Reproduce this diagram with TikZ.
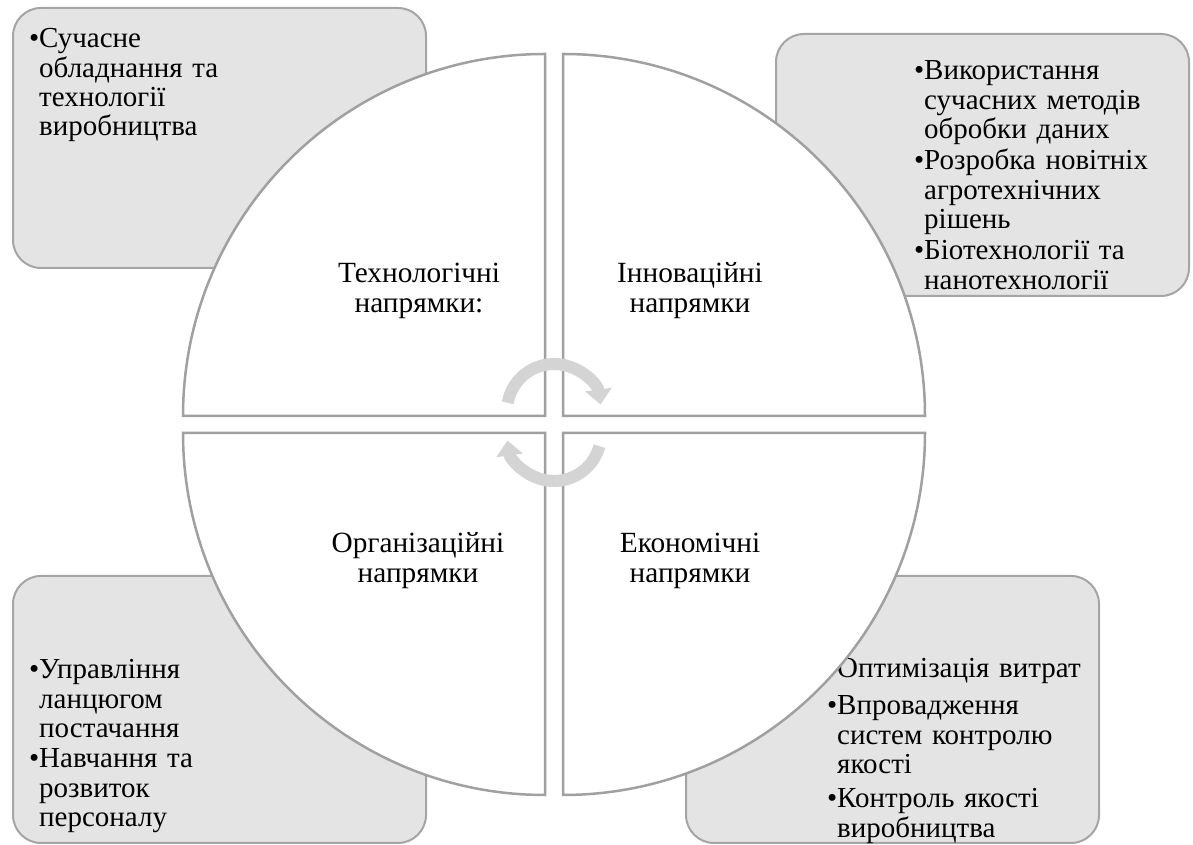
\documentclass[tikz,border=0pt]{standalone}
\usepackage{fontspec}
\setmainfont{Liberation Serif}
\usetikzlibrary{arrows.meta}
\definecolor{boxfill}{RGB}{228,228,228}
\definecolor{boxline}{RGB}{165,165,165}
\definecolor{quadline}{RGB}{160,160,160}
\definecolor{arrowgray}{RGB}{212,212,212}
\newcommand\bodyfont{\fontsize{29pt}{29.3pt}\selectfont}
\newcommand\labelfont{\fontsize{29.3pt}{29.5pt}\selectfont}
\newcommand\bul{\llap{•}}
\begin{document}
\begin{tikzpicture}[x=1pt,y=1pt,
  cbox/.style={draw=boxline, fill=boxfill, line width=2pt, rounded corners=28pt, inner sep=0pt, anchor=north west},
  quad/.style={draw=quadline, fill=white, line width=2.5pt, line join=miter},
  btext/.style={anchor=base west, inner sep=0pt, text width=270pt, align=left, font=\bodyfont},
  ctext/.style={anchor=base, inner sep=0pt, text width=220pt, align=center, font=\labelfont},
  cyc/.style={draw=arrowgray, line width=12pt, -{Triangle[width=26pt,length=15pt]}}
]
\useasboundingbox (0,0) rectangle (1193,845);
\fill[white] (0,0) rectangle (1193,845);
% corner boxes
\node[cbox, minimum width=413pt, minimum height=260pt] (tlbox) at (12,838) {};
\node[cbox, minimum width=413pt, minimum height=262pt] (trbox) at (775,812) {};
\node[cbox, minimum width=413pt, minimum height=267pt] (blbox) at (12,270) {};
\node[cbox, minimum width=413pt, minimum height=267pt] (brbox) at (685,270) {};
% box texts
\node[btext] (tl1) at (39,797) {\bul Сучасне\\обладнання та\\технології\\виробництва};
\node[btext] (tr1) at (924,765) {\bul Використання\\сучасних методів\\обробки даних};
\node[btext] (tr2) at (924,675) {\bul Розробка новітніх\\агротехнічних\\рішень};
\node[btext] (tr3) at (924,585) {\bul Біотехнології та\\нанотехнології};
\node[btext] (bl1) at (39,166) {\bul Управління\\ланцюгом\\постачання};
\node[btext] (bl2) at (39,77) {\bul Навчання та\\розвиток\\персоналу};
\node[btext] (br1) at (837,167) {\bul Оптимізація витрат};
\node[btext] (br2) at (837,130) {\bul Впровадження\\систем контролю\\якості};
\node[btext] (br3) at (837,37) {\bul Контроль якості\\виробництва};
% quarter circles
\draw[quad] (545,429) -- (183,429) arc[start angle=180,end angle=90,radius=362] -- cycle;
\draw[quad] (563,429) -- (563,791) arc[start angle=90,end angle=0,radius=362] -- cycle;
\draw[quad] (545,412) -- (183,412) arc[start angle=180,end angle=270,radius=362] -- cycle;
\draw[quad] (563,412) -- (925,412) arc[start angle=0,end angle=-90,radius=362] -- cycle;
% quarter labels
\node[ctext] (tech) at (419,562) {Технологічні\\напрямки:};
\node[ctext] (innov) at (690,562) {Інноваційні\\напрямки};
\node[ctext] (org) at (418,292) {Організаційні\\напрямки};
\node[ctext] (econ) at (690,292) {Економічні\\напрямки};
% cycle arrows
\coordinate (ctop) at (554,434);
\coordinate (cbot) at (554,411);
\draw[cyc] ([shift={(170:47)}]ctop) arc[start angle=170,end angle=8,radius=47];
\draw[cyc] ([shift={(-15:47)}]cbot) arc[start angle=-15,end angle=-172,radius=47];
\end{tikzpicture}
\end{document}
